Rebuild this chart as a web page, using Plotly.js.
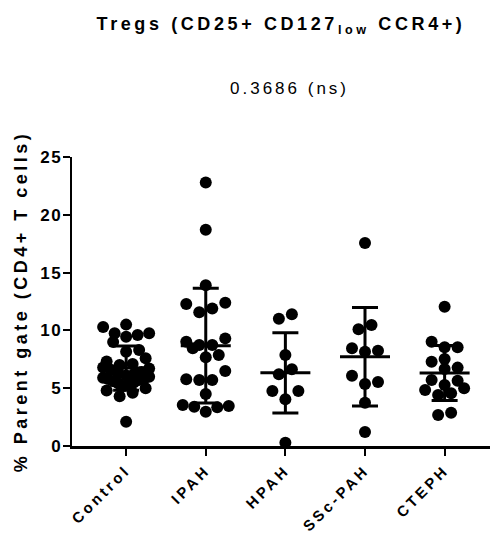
<!DOCTYPE html>
<html><head><meta charset="utf-8">
<script src="https://cdn.plot.ly/plotly-3.0.1.min.js"></script>
<style>
html,body{margin:0;padding:0;background:#fff;}
svg text{letter-spacing:2.5px;}
svg text.gtitle{letter-spacing:3.6px;}
svg .annotation-text{letter-spacing:3px;}
svg .xtick text{letter-spacing:3.2px;}
svg .ytick text{letter-spacing:1.5px;}
svg text.ytitle{letter-spacing:3.5px;}
</style>
</head><body>
<div id="chart" style="width:493px;height:536px;"></div>
<script>
// ---- data ----
const categories = ["Control", "IPAH", "HPAH", "SSc-PAH", "CTEPH"];
const control = [10.5, 10.3, 9.75, 9.75, 9.6, 9.46, 9.0, 8.3, 8.16, 7.6, 7.3, 7.1, 7.0, 6.8, 6.7, 6.6, 6.4, 6.3, 6.2, 6.1, 6.0, 5.9, 5.8, 5.8, 5.7, 5.6, 5.5, 5.4, 5.3, 5.2, 5.0, 4.8, 4.6, 4.3, 2.1];
const ipah = [22.8, 18.7, 13.9, 12.4, 12.28, 11.9, 11.57, 9.31, 9.02, 8.74, 8.74, 8.45, 7.87, 7.67, 6.49, 5.77, 5.71, 5.71, 4.5, 3.55, 3.46, 3.4, 3.35, 2.97];
const hpah = [11.0, 11.4, 7.87, 6.2, 6.63, 4.76, 4.76, 4.04, 0.29];
const sscpah = [17.56, 10.09, 10.47, 8.25, 8.16, 8.45, 6.08, 5.36, 5.54, 3.75, 1.21];
const cteph = [12.05, 8.54, 8.54, 9.02, 7.29, 7.53, 6.66, 6.78, 5.71, 5.65, 5.28, 5.0, 4.56, 4.84, 4.41, 2.68, 2.88];
const yTicks = [0, 5, 10, 15, 20, 25];
const titleText = "Tregs (CD25+ CD127<sub>low</sub> CCR4+)";
const subtitleText = "0.3686 (ns)";
const yTitleText = "% Parent gate (CD4+ T cells)";

const groups = [control, ipah, hpah, sscpah, cteph];

// ---- geometry ----
const W = 493, H = 536;
const M = {l: 72, r: 3, t: 157, b: 90};
const xRange = [-0.68, 4.57], yRange = [0, 25];
const pxPerX = (W - M.l - M.r) / (xRange[1] - xRange[0]);
const pxPerY = (H - M.t - M.b) / (yRange[1] - yRange[0]);
const FONT = "Liberation Sans, Arial, sans-serif";

function mean(a){ return a.reduce((s,v)=>s+v,0)/a.length; }
function sd(a){ const m=mean(a); return Math.sqrt(a.reduce((s,v)=>s+(v-m)*(v-m),0)/(a.length-1)); }

// simple row-based scatter spreading (like a dot plot)
function swarmOffsets(vals){
  const order = vals.map((v,i)=>i).sort((a,b)=>vals[a]-vals[b]);
  const rowH = 10/pxPerY;
  const S = 13, maxHalf = 23;
  const off = new Array(vals.length).fill(0);
  let i = 0;
  while (i < order.length){
    const start = vals[order[i]];
    let j = i;
    while (j < order.length && vals[order[j]] - start <= rowH) j++;
    const n = j - i;
    const s = n > 1 ? Math.min(S, 2*maxHalf/(n-1)) : 0;
    const pos = [];
    for (let k=0;k<n;k++) pos.push((k-(n-1)/2)*s);
    pos.sort((a,b)=> (Math.abs(a)-Math.abs(b)) || (n%2 ? b-a : a-b));
    for (let k=0;k<n;k++) off[order[i+k]] = pos[k]/pxPerX;
    i = j;
  }
  return off;
}

const traces = [];
const ptsX = [], ptsY = [];
groups.forEach((g, gi) => {
  const off = swarmOffsets(g);
  g.forEach((v, k) => { ptsX.push(gi + off[k]); ptsY.push(v); });
});
traces.push({type:'scatter', mode:'markers', x: ptsX, y: ptsY, hoverinfo:'skip',
  marker:{size: 12, color:'#000', line:{width:0}}, showlegend:false, cliponaxis:false});

const means = groups.map(mean), sds = groups.map(sd);
const halfMean = 25/pxPerX;
const mx = [], my = [];
means.forEach((m, gi) => { mx.push(gi-halfMean, gi+halfMean, null); my.push(m, m, null); });
traces.push({type:'scatter', mode:'lines', x: mx, y: my, line:{color:'#000', width:3}, hoverinfo:'skip', showlegend:false});
traces.push({type:'scatter', mode:'markers', x: categories.map((c,i)=>i), y: means,
  marker:{size:1, opacity:0}, hoverinfo:'skip', showlegend:false,
  error_y:{type:'data', array: sds, visible:true, color:'#000', thickness:3, width:13}});

const layout = {
  width: W, height: H,
  margin: M,
  paper_bgcolor:'#fff', plot_bgcolor:'#fff',
  showlegend:false,
  font:{family: FONT, color:'#000'},
  title:{text: titleText, x:0.5, xref:'paper', xanchor:'center', y: 1-24/H, yref:'container', yanchor:'middle',
    font:{family: FONT, size:18, weight:'bold', color:'#000'}},
  annotations:[{text: subtitleText, xref:'paper', yref:'paper', x:0.5, y: 1 + (M.t-88)/(H-M.t-M.b), xanchor:'center', yanchor:'middle',
    xshift: 8, showarrow:false, font:{family: FONT, size:17, color:'#000'}}],
  xaxis:{range: xRange, tickvals: categories.map((c,i)=>i), ticktext: categories, tickangle:-45,
    ticks:'outside', ticklen:7, tickwidth:2, tickcolor:'#000',
    showline:true, linewidth:2.5, linecolor:'#000', showgrid:false, zeroline:false, fixedrange:true,
    tickfont:{family: FONT, size:15, weight:'bold', color:'#000'}},
  yaxis:{range: yRange, tickvals: yTicks, ticktext: yTicks.map(String),
    ticks:'outside', ticklen:7, tickwidth:2, tickcolor:'#000', ticklabelstandoff: -3,
    showline:true, linewidth:2.5, linecolor:'#000', showgrid:false, zeroline:false, fixedrange:true,
    tickfont:{family: FONT, size:17, weight:'bold', color:'#000'},
    title:{text: yTitleText, standoff: 8, font:{family: FONT, size:18, weight:'bold', color:'#000'}}}
};

Plotly.newPlot('chart', traces, layout, {displayModeBar:false, staticPlot:true});
</script>
</body></html>
